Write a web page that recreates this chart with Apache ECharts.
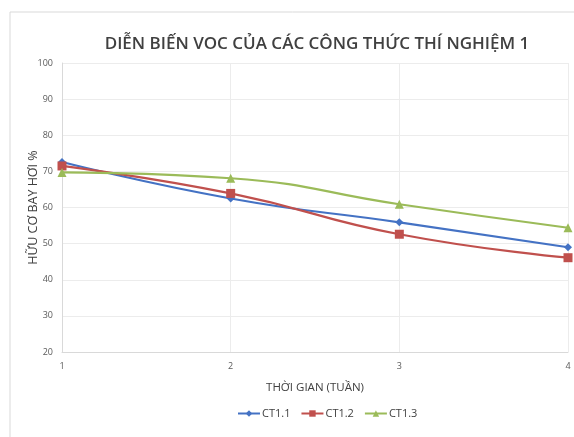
<!DOCTYPE html>
<html>
<head>
<meta charset="utf-8">
<script src="https://cdn.jsdelivr.net/npm/echarts@6/dist/echarts.min.js"></script>
<style>
  html, body { margin: 0; padding: 0; background: #fff; }
  #chart { width: 574px; height: 437px; }
</style>
</head>
<body>
<div id="chart"></div>
<script>
// tuần (x) và giá trị từng công thức
var weeks = ['1', '2', '3', '4'];
var ct11 = [72.6, 62.5, 55.9, 49.0];
var ct12 = [71.5, 63.9, 52.6, 46.1];
var ct13 = [69.7, 68.1, 60.9, 54.4];
var yTicks = { min: 20, max: 100, step: 10 };

var chart = echarts.init(document.getElementById('chart'));

function line(name, data, color, symbol, size) {
  return {
    name: name,
    type: 'line',
    smooth: true,
    data: data,
    symbol: symbol,
    symbolSize: size,
    lineStyle: { color: color, width: 2.2 },
    itemStyle: { color: color }
  };
}

chart.setOption({
  animation: false,
  textStyle: { fontFamily: 'Open Sans, Liberation Sans, sans-serif' },
  graphic: [{
    type: 'rect',
    shape: { x: 10, y: 12, width: 580, height: 440 },
    style: { fill: 'none', stroke: '#d9d9d9', lineWidth: 1 }
  }],
  title: {
    text: 'DIỄN BIẾN VOC CỦA CÁC CÔNG THỨC THÍ NGHIỆM 1',
    left: 312,
    textAlign: 'center',
    top: 31,
    textStyle: { fontSize: 17, fontWeight: 600, color: '#404040' }
  },
  legend: {
    top: 403,
    left: 232,
    itemGap: 10,
    itemWidth: 22,
    itemHeight: 8,
    textStyle: { fontSize: 11, color: '#404040', padding: [0, 0, 0, -3] },
    data: ['CT1.1', 'CT1.2', 'CT1.3']
  },
  grid: { left: 62, right: 6, top: 63, bottom: 85 },
  xAxis: {
    type: 'category',
    data: weeks,
    boundaryGap: false,
    name: 'THỜI GIAN (TUẦN)',
    nameLocation: 'middle',
    nameGap: 30,
    nameMoveOverlap: false,
    nameTextStyle: { fontSize: 11.5, color: '#404040' },
    axisLine: { lineStyle: { color: '#d9d9d9' } },
    axisTick: { show: false },
    axisLabel: { fontSize: 9, color: '#595959', margin: 10 },
    splitLine: { show: true, lineStyle: { color: '#ececec' } }
  },
  yAxis: {
    type: 'value',
    min: yTicks.min,
    max: yTicks.max,
    interval: yTicks.step,
    name: 'HỮU CƠ BAY HƠI %',
    nameLocation: 'middle',
    nameGap: 22,
    nameMoveOverlap: false,
    nameTextStyle: { fontSize: 12.5, color: '#404040' },
    axisLine: { show: true, lineStyle: { color: '#d9d9d9' } },
    axisTick: { show: false },
    axisLabel: { fontSize: 9, color: '#595959', margin: 9 },
    splitLine: { lineStyle: { color: '#ececec' } }
  },
  series: [
    line('CT1.1', ct11, '#4472c4', 'diamond', 8),
    line('CT1.2', ct12, '#c0504d', 'rect', 9),
    line('CT1.3', ct13, '#9bbb59', 'triangle', 9)
  ]
});
</script>
</body>
</html>
